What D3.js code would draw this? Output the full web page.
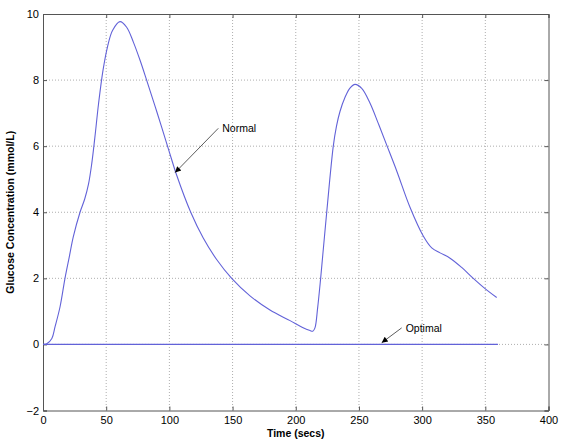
<!DOCTYPE html>
<html><head><meta charset="utf-8">
<script src="https://cdn.jsdelivr.net/npm/d3@7"></script>
<style>body{margin:0;background:#fff}svg{display:block}text{font-family:"Liberation Sans",Arial,sans-serif}</style>
</head><body><svg id="c" width="562" height="439"></svg>
<script>
const xTicks = [0,50,100,150,200,250,300,350,400];
const yTicks = [-2,0,2,4,6,8,10];
const normalT = [0,3,7,9.5,13.5,17.4,20.8,24,29.3,33,36,38.5,41,44,47.5,51,55,60.9,66.2,71.5,76.8,82,90,99.2,105.8,116.9,126.8,137.4,149.3,163.8,179.6,195.5,205,211.3,213.5,215.2,217.3,219.7,224.5,229.7,232.2,235,239,242.9,246.9,252.2,258.8,265.3,272,279.9,290.4,300.9,307.6,314.2,322.1,331.3,340.5,349.8,359];
const normalG = [0,0.02,0.18,0.53,1.14,2.0,2.65,3.26,4.0,4.4,4.85,5.45,6.25,7.3,8.3,9.0,9.5,9.77,9.6,9.15,8.6,8.0,7.05,5.92,5.12,4.0,3.22,2.57,2.0,1.47,1.04,0.72,0.52,0.42,0.4,0.5,1.1,2.0,4.0,6.0,6.6,7.05,7.48,7.76,7.87,7.75,7.3,6.69,6.03,5.25,4.15,3.28,2.92,2.77,2.61,2.33,2.0,1.69,1.42];
const optimalT = [0,360];
const optimalG = [0,0];
const labels = ["Normal","Optimal"];

const svg = d3.select("#c");
const L=43,R=548.5,T=14,B=410.5;
const x = d3.scaleLinear().domain([0,400]).range([L,R]);
const y = d3.scaleLinear().domain([-2,10]).range([B,T]);
const g = svg.append("g");
// grid
g.selectAll(".gx").data(xTicks.slice(1,-1)).enter().append("line")
 .attr("x1",d=>x(d)).attr("x2",d=>x(d)).attr("y1",T).attr("y2",B)
 .attr("stroke","#999").attr("stroke-dasharray","1,2").attr("stroke-width",0.8);
g.selectAll(".gy").data(yTicks.slice(1,-1)).enter().append("line")
 .attr("y1",d=>y(d)).attr("y2",d=>y(d)).attr("x1",L).attr("x2",R)
 .attr("stroke","#999").attr("stroke-dasharray","1,2").attr("stroke-width",0.8);
// axes
svg.append("g").attr("transform",`translate(0,${B})`)
 .call(d3.axisBottom(x).tickValues(xTicks).tickSize(-4).tickPadding(6).tickFormat(d3.format("d")));
svg.append("g").attr("transform",`translate(${L},0)`)
 .call(d3.axisLeft(y).tickValues(yTicks).tickSize(-4).tickPadding(4).tickFormat(d3.format("d")));
svg.append("g").attr("transform",`translate(0,${T})`)
 .call(d3.axisTop(x).tickValues(xTicks).tickSize(-4).tickFormat(""));
svg.append("g").attr("transform",`translate(${R},0)`)
 .call(d3.axisRight(y).tickValues(yTicks).tickSize(-4).tickFormat(""));
svg.selectAll(".domain").attr("stroke","#555");
svg.selectAll(".tick line").attr("stroke","#555");
svg.selectAll(".tick text").attr("font-size",11).attr("fill","#000").attr("font-family","Liberation Sans, Arial, sans-serif");
// lines
const line = d3.line().x(d=>x(d[0])).y(d=>y(d[1])).curve(d3.curveCatmullRom.alpha(0.5));
svg.append("path").datum(optimalT.map((t,i)=>[t,optimalG[i]])).attr("d",line)
 .attr("fill","none").attr("stroke","#6262d8").attr("stroke-width",1.1);
svg.append("path").datum(normalT.map((t,i)=>[t,normalG[i]])).attr("d",line)
 .attr("fill","none").attr("stroke","#6262d8").attr("stroke-width",1.1);
// annotations
const defs = svg.append("defs");
defs.append("marker").attr("id","ah").attr("viewBox","0 0 10 10").attr("refX",10).attr("refY",5)
 .attr("markerWidth",9).attr("markerHeight",6).attr("markerUnits","userSpaceOnUse").attr("orient","auto")
 .append("path").attr("d","M0,0L10,5L0,10z").attr("fill","#000");
const ann = [[138.7,6.54,104.5,5.2],[283.8,0.5,268,0.05]];
ann.forEach((a,i)=>{
  svg.append("line").attr("x1",x(a[0])).attr("y1",y(a[1])).attr("x2",x(a[2])).attr("y2",y(a[3]))
   .attr("stroke","#333").attr("stroke-width",0.8).attr("marker-end","url(#ah)");
  svg.append("text").attr("x",x(a[0])+4).attr("y",y(a[1])+4).attr("font-size",10.5).text(labels[i]);
});
// axis titles
svg.append("text").attr("x",(L+R)/2).attr("y",437).attr("text-anchor","middle")
 .attr("font-size",10.5).attr("font-weight","bold").text("Time (secs)");
svg.append("text").attr("transform",`translate(14,${(T+B)/2}) rotate(-90)`).attr("text-anchor","middle")
 .attr("font-size",10.5).attr("font-weight","bold").text("Glucose Concentration (mmol/L)");
</script></body></html>
